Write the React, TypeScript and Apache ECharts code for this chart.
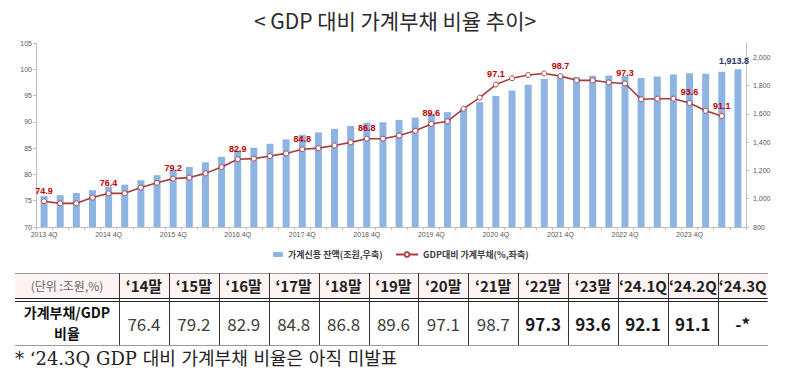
import React, { useEffect, useRef } from "react";
import * as echarts from "echarts";

const categories = [
  "2013 4Q",
  "2014 1Q", "2014 2Q", "2014 3Q", "2014 4Q",
  "2015 1Q", "2015 2Q", "2015 3Q", "2015 4Q",
  "2016 1Q", "2016 2Q", "2016 3Q", "2016 4Q",
  "2017 1Q", "2017 2Q", "2017 3Q", "2017 4Q",
  "2018 1Q", "2018 2Q", "2018 3Q", "2018 4Q",
  "2019 1Q", "2019 2Q", "2019 3Q", "2019 4Q",
  "2020 1Q", "2020 2Q", "2020 3Q", "2020 4Q",
  "2021 1Q", "2021 2Q", "2021 3Q", "2021 4Q",
  "2022 1Q", "2022 2Q", "2022 3Q", "2022 4Q",
  "2023 1Q", "2023 2Q", "2023 3Q", "2023 4Q",
  "2024 1Q", "2024 2Q", "2024 3Q",
];

// 가계신용 잔액 (조원, 우축)
const creditBalance = [
  1019.0,
  1024.9, 1040.6, 1060.1, 1085.3,
  1099.3, 1130.5, 1166.0, 1203.1,
  1223.7, 1257.3, 1295.8, 1342.5,
  1359.1, 1388.1, 1419.1, 1450.9,
  1468.2, 1493.2, 1514.4, 1536.7,
  1540.0, 1556.7, 1572.7, 1600.3,
  1611.3, 1637.3, 1682.1, 1726.1,
  1765.0, 1805.9, 1844.9, 1862.1,
  1859.4, 1869.4, 1870.6, 1867.0,
  1853.3, 1862.8, 1878.3, 1886.4,
  1882.4, 1896.2, 1913.8,
];

// GDP대비 가계부채 (%, 좌축)
const debtRatio: (number | null)[] = [
  74.9,
  74.5, 74.5, 75.6, 76.4,
  76.4, 77.5, 78.4, 79.2,
  79.4, 80.2, 81.4, 82.9,
  83.0, 83.5, 84.0, 84.8,
  85.0, 85.5, 86.1, 86.8,
  86.8, 87.4, 88.3, 89.6,
  90.1, 92.5, 94.6, 97.1,
  98.3, 98.9, 99.2, 98.7,
  97.9, 97.9, 97.5, 97.3,
  94.3, 94.4, 94.4, 93.6,
  92.1, 91.1, null,
];

const ratioLabelIndex = [0, 4, 8, 12, 16, 20, 24, 28, 32, 36, 40, 42];
const balanceLabelIndex = [43];

const tableUnit = "(단위 :조원,%)";
const tableRowName = ["가계부채/GDP", "비율"];
const tableHeaders = ["‘14말", "‘15말", "‘16말", "‘17말", "‘18말", "‘19말", "‘20말", "‘21말", "‘22말", "‘23말", "‘24.1Q", "‘24.2Q", "‘24.3Q"];
const tableValues = ["76.4", "79.2", "82.9", "84.8", "86.8", "89.6", "97.1", "98.7", "97.3", "93.6", "92.1", "91.1", "-*"];
const tableBold = [false, false, false, false, false, false, false, false, true, true, true, true, true];

const titleText = "< GDP 대비 가계부채 비율 추이>";
const footnoteText = "* ‘24.3Q GDP 대비 가계부채 비율은 아직 미발표";
const seriesNames = ["가계신용 잔액(조원,우축)", "GDP대비 가계부채(%,좌축)"];

const FONT = "'Noto Sans CJK KR', 'Noto Sans', sans-serif";
const AXIS_FONT = "'Liberation Sans', 'Noto Sans', sans-serif";

function txt(text: string, x: number, y: number, o: any = {}) {
  return {
    type: "text",
    silent: true,
    style: {
      text,
      x,
      y,
      fill: o.fill || "#222",
      fontSize: o.fontSize || 14,
      fontWeight: o.fontWeight || "normal",
      fontFamily: o.fontFamily || FONT,
      align: o.align || "center",
      textAlign: o.align || "center",
      verticalAlign: "middle",
      textVerticalAlign: "middle",
    },
  };
}

function ln(x1: number, y1: number, x2: number, y2: number, stroke: string, lineWidth = 1) {
  return { type: "line", silent: true, shape: { x1, y1, x2, y2 }, style: { stroke, lineWidth } };
}

export default function App() {
  const ref = useRef<HTMLDivElement>(null);

  useEffect(() => {
    const chart = echarts.init(ref.current!, null, { renderer: "svg" });

    const tX0 = 15;
    const firstW = 104;
    const colW = 49.9;
    const hTop = 273;
    const hBot = 298;
    const dTop = 301;
    const dBot = 345;
    const tX1 = tX0 + firstW + colW * tableHeaders.length;

    const graphics: any[] = [];
    graphics.push(txt(titleText, 395, 20, { fontSize: 21, fill: "#2b2b2b" }));
    graphics.push({
      type: "rect",
      silent: true,
      shape: { x: tX0, y: hTop, width: tX1 - tX0, height: hBot - hTop },
      style: { fill: "#fcf3f2" },
    });
    graphics.push(ln(tX0, hTop + 0.5, tX1, hTop + 0.5, "#9a9a9a"));
    graphics.push(ln(tX0, hBot + 0.5, tX1, hBot + 0.5, "#222", 1.2));
    graphics.push(ln(tX0, dTop + 0.5, tX1, dTop + 0.5, "#222", 1));
    graphics.push(ln(tX0, dBot + 0.5, tX1, dBot + 0.5, "#9a9a9a"));
    for (let i = 0; i < tableHeaders.length; i++) {
      const x = Math.round(tX0 + firstW + colW * i) + 0.5;
      graphics.push(ln(x, hTop, x, dBot, "#333"));
    }
    graphics.push(txt(tableUnit, tX0 + firstW / 2, (hTop + hBot) / 2, { fontSize: 12, fill: "#666" }));
    graphics.push(txt(tableRowName[0], tX0 + firstW / 2, 312, { fontSize: 14, fontWeight: "bold", fill: "#111" }));
    graphics.push(txt(tableRowName[1], tX0 + firstW / 2, 333, { fontSize: 14, fontWeight: "bold", fill: "#111" }));
    tableHeaders.forEach((h, i) => {
      const cx = tX0 + firstW + colW * (i + 0.5);
      graphics.push(txt(h, cx, (hTop + hBot) / 2, { fontSize: 15, fontWeight: "bold", fill: "#222" }));
      graphics.push(
        txt(tableValues[i], cx, (dTop + dBot) / 2, {
          fontSize: 17,
          fontWeight: tableBold[i] ? "bold" : "normal",
          fill: tableBold[i] ? "#1a1a1a" : "#404040",
        })
      );
    });
    graphics.push(
      txt(footnoteText, 15, 358, {
        align: "left",
        fontSize: 18,
        fill: "#222",
        fontFamily: "'DejaVu Serif', 'Noto Sans CJK KR', serif",
      })
    );

    const lineData = debtRatio.map((v, i) =>
      ratioLabelIndex.includes(i)
        ? {
            value: v,
            label: {
              show: true,
              position: "top",
              distance: 3,
              color: "#c00000",
              fontSize: 9,
              fontWeight: "bold",
              fontFamily: AXIS_FONT,
              formatter: (p: any) => Number(p.value).toFixed(1),
            },
          }
        : v
    );

    const barData = creditBalance.map((v, i) =>
      balanceLabelIndex.includes(i)
        ? {
            value: v,
            label: {
              show: true,
              position: "top",
              distance: 4,
              offset: [-4, 0],
              color: "#1f3864",
              fontSize: 9,
              fontWeight: "bold",
              fontFamily: AXIS_FONT,
              formatter: (p: any) => Number(p.value).toLocaleString("en-US", { minimumFractionDigits: 1 }),
            },
          }
        : v
    );

    const option: any = {
      animation: false,
      backgroundColor: "#ffffff",
      grid: { left: 36, right: 54, top: 43, bottom: 148, containLabel: false },
      legend: [
        {
          data: [seriesNames[0]],
          left: 273,
          top: 250,
          itemWidth: 10,
          itemHeight: 5,
          itemGap: 4,
          padding: 0,
          textStyle: { fontSize: 9, fontWeight: "bold", color: "#404040", fontFamily: FONT },
        },
        {
          data: [seriesNames[1]],
          left: 395,
          top: 250,
          itemWidth: 22,
          itemHeight: 6,
          padding: 0,
          textStyle: { fontSize: 9, fontWeight: "bold", color: "#404040", fontFamily: FONT },
        },
      ],
      xAxis: {
        type: "category",
        data: categories,
        boundaryGap: true,
        axisLine: { show: true, lineStyle: { color: "#bfbfbf" } },
        axisTick: { show: true, interval: 0, length: 3, lineStyle: { color: "#bfbfbf" } },
        axisLabel: { interval: 3, fontSize: 7, color: "#595959", margin: 4, fontFamily: AXIS_FONT },
        splitLine: { show: false },
      },
      yAxis: [
        {
          type: "value",
          min: 70,
          max: 105,
          interval: 5,
          position: "left",
          axisLine: { show: true, lineStyle: { color: "#bfbfbf" } },
          axisTick: { show: true, length: 3, lineStyle: { color: "#bfbfbf" } },
          axisLabel: { fontSize: 7, color: "#595959", margin: 4, fontFamily: AXIS_FONT },
          splitLine: { show: false },
        },
        {
          type: "value",
          min: 800,
          max: 2100,
          interval: 200,
          position: "right",
          axisLine: { show: true, lineStyle: { color: "#bfbfbf" } },
          axisTick: { show: true, length: 3, lineStyle: { color: "#bfbfbf" } },
          axisLabel: {
            fontSize: 7,
            color: "#595959",
            margin: 7,
            showMaxLabel: false,
            fontFamily: AXIS_FONT,
            formatter: (v: number) => (v > 2000 ? "" : v.toLocaleString("en-US")),
          },
          splitLine: { show: false },
        },
      ],
      series: [
        {
          name: seriesNames[0],
          type: "bar",
          yAxisIndex: 1,
          data: barData,
          barWidth: 7,
          itemStyle: { color: "#8db4e2" },
          z: 1,
        },
        {
          name: seriesNames[1],
          type: "line",
          yAxisIndex: 0,
          data: lineData,
          symbol: "circle",
          symbolSize: 5,
          showAllSymbol: true,
          connectNulls: false,
          lineStyle: { color: "#a83c3c", width: 1.6 },
          itemStyle: { color: "#ffffff", borderColor: "#b04545", borderWidth: 1 },
          z: 3,
        },
      ],
      graphic: graphics,
    };

    chart.setOption(option);
    return () => chart.dispose();
  }, []);

  return (
    <div
      ref={ref}
      style={{ position: "absolute", left: 0, top: 0, width: 800, height: 375, background: "#fff" }}
    />
  );
}
